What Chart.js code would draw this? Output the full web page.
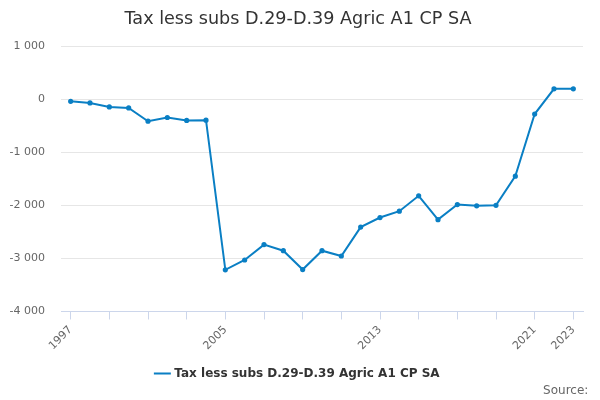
<!DOCTYPE html>
<html>
<head>
<meta charset="utf-8">
<script src="https://cdn.jsdelivr.net/npm/chart.js@4"></script>
<style>
  html, body { margin: 0; padding: 0; background: #fff; }
  #wrap { width: 600px; height: 400px; position: relative; }
</style>
</head>
<body>
<div id="wrap"><canvas id="lineChart"></canvas></div>
<script>
const years = ['1997', '1998', '1999', '2000', '2001', '2002', '2003', '2004', '2005', '2006',
    '2007', '2008', '2009', '2010', '2011', '2012', '2013', '2014', '2015', '2016',
    '2017', '2018', '2019', '2020', '2021', '2022', '2023'];
const taxLessSubs = [-40, -70, -145, -165, -415, -345, -400, -395, -3215, -3030,
    -2740, -2855, -3210, -2855, -2955, -2410, -2230, -2110, -1820, -2270,
    -1985, -2010, -2000, -1450, -280, 195, 195];
const shownYears = ['1997', '2005', '2013', '2021', '2023'];
const seriesName = 'Tax less subs D.29-D.39 Agric A1 CP SA';

const fontFamily = '"DejaVu Sans", sans-serif';
const lineBlue = '#0a7fc4';

const ctx = document.getElementById('lineChart').getContext('2d');

const lineChart = new Chart(ctx, {
    type: 'line',
    data: {
        labels: years,
        datasets: [{
            label: seriesName,
            data: taxLessSubs,
            borderColor: lineBlue,
            backgroundColor: lineBlue,
            borderWidth: 2,
            pointRadius: 1.6,
            pointHoverRadius: 3,
            tension: 0
        }]
    },
    options: {
        responsive: true,
        maintainAspectRatio: false,
        animation: false,
        layout: {
            padding: { left: 0, right: 4, top: 5, bottom: 2 }
        },
        plugins: {
            title: {
                display: true,
                text: seriesName,
                color: '#333333',
                font: { family: fontFamily, size: 17.6, weight: 'normal' },
                padding: { top: 4, bottom: 16 }
            },
            subtitle: {
                display: true,
                text: 'Source:\u00a0\u00a0', // trailing spaces keep it off the right edge
                position: 'bottom',
                align: 'end',
                color: '#666666',
                font: { family: fontFamily, size: 12, weight: 'normal' },
                padding: { top: -6, bottom: 0 }
            },
            legend: {
                position: 'bottom',
                labels: {
                    color: '#333333',
                    font: { family: fontFamily, size: 12, weight: 'bold' },
                    usePointStyle: true,
                    pointStyle: 'line',
                    boxWidth: 15,
                    padding: 11
                }
            },
            tooltip: { enabled: false }
        },
        scales: {
            x: {
                offset: true,
                border: { color: '#ccd6eb', width: 1 },
                grid: {
                    drawOnChartArea: false,
                    drawTicks: true,
                    tickLength: 8,
                    color: c => (c.index % 2 === 0 ? '#ccd6eb' : 'rgba(0,0,0,0)')
                },
                ticks: {
                    autoSkip: false,
                    maxRotation: 45,
                    minRotation: 45,
                    color: '#666666',
                    font: { family: fontFamily, size: 11 },
                    padding: 4,
                    callback: function (value, index) {
                        const lbl = this.getLabelForValue(value);
                        return shownYears.includes(lbl) ? lbl : '';
                    }
                }
            },
            y: {
                min: -4000,
                max: 1000,
                border: { display: false },
                grid: { color: '#e6e6e6', drawTicks: false },
                afterFit: scale => { scale.width = 61; },
                ticks: {
                    stepSize: 1000,
                    color: '#666666',
                    padding: 16,
                    font: { family: fontFamily, size: 11 },
                    callback: v => String(v).replace(/\B(?=(\d{3})+(?!\d))/g, ' ')
                }
            },
            // empty right-hand spacer so the plot ends where the reference does
            spacer: {
                type: 'linear',
                position: 'right',
                border: { display: false },
                grid: { display: false },
                ticks: { display: false },
                afterFit: scale => { scale.width = 13; }
            }
        }
    }
});
</script>
</body>
</html>
